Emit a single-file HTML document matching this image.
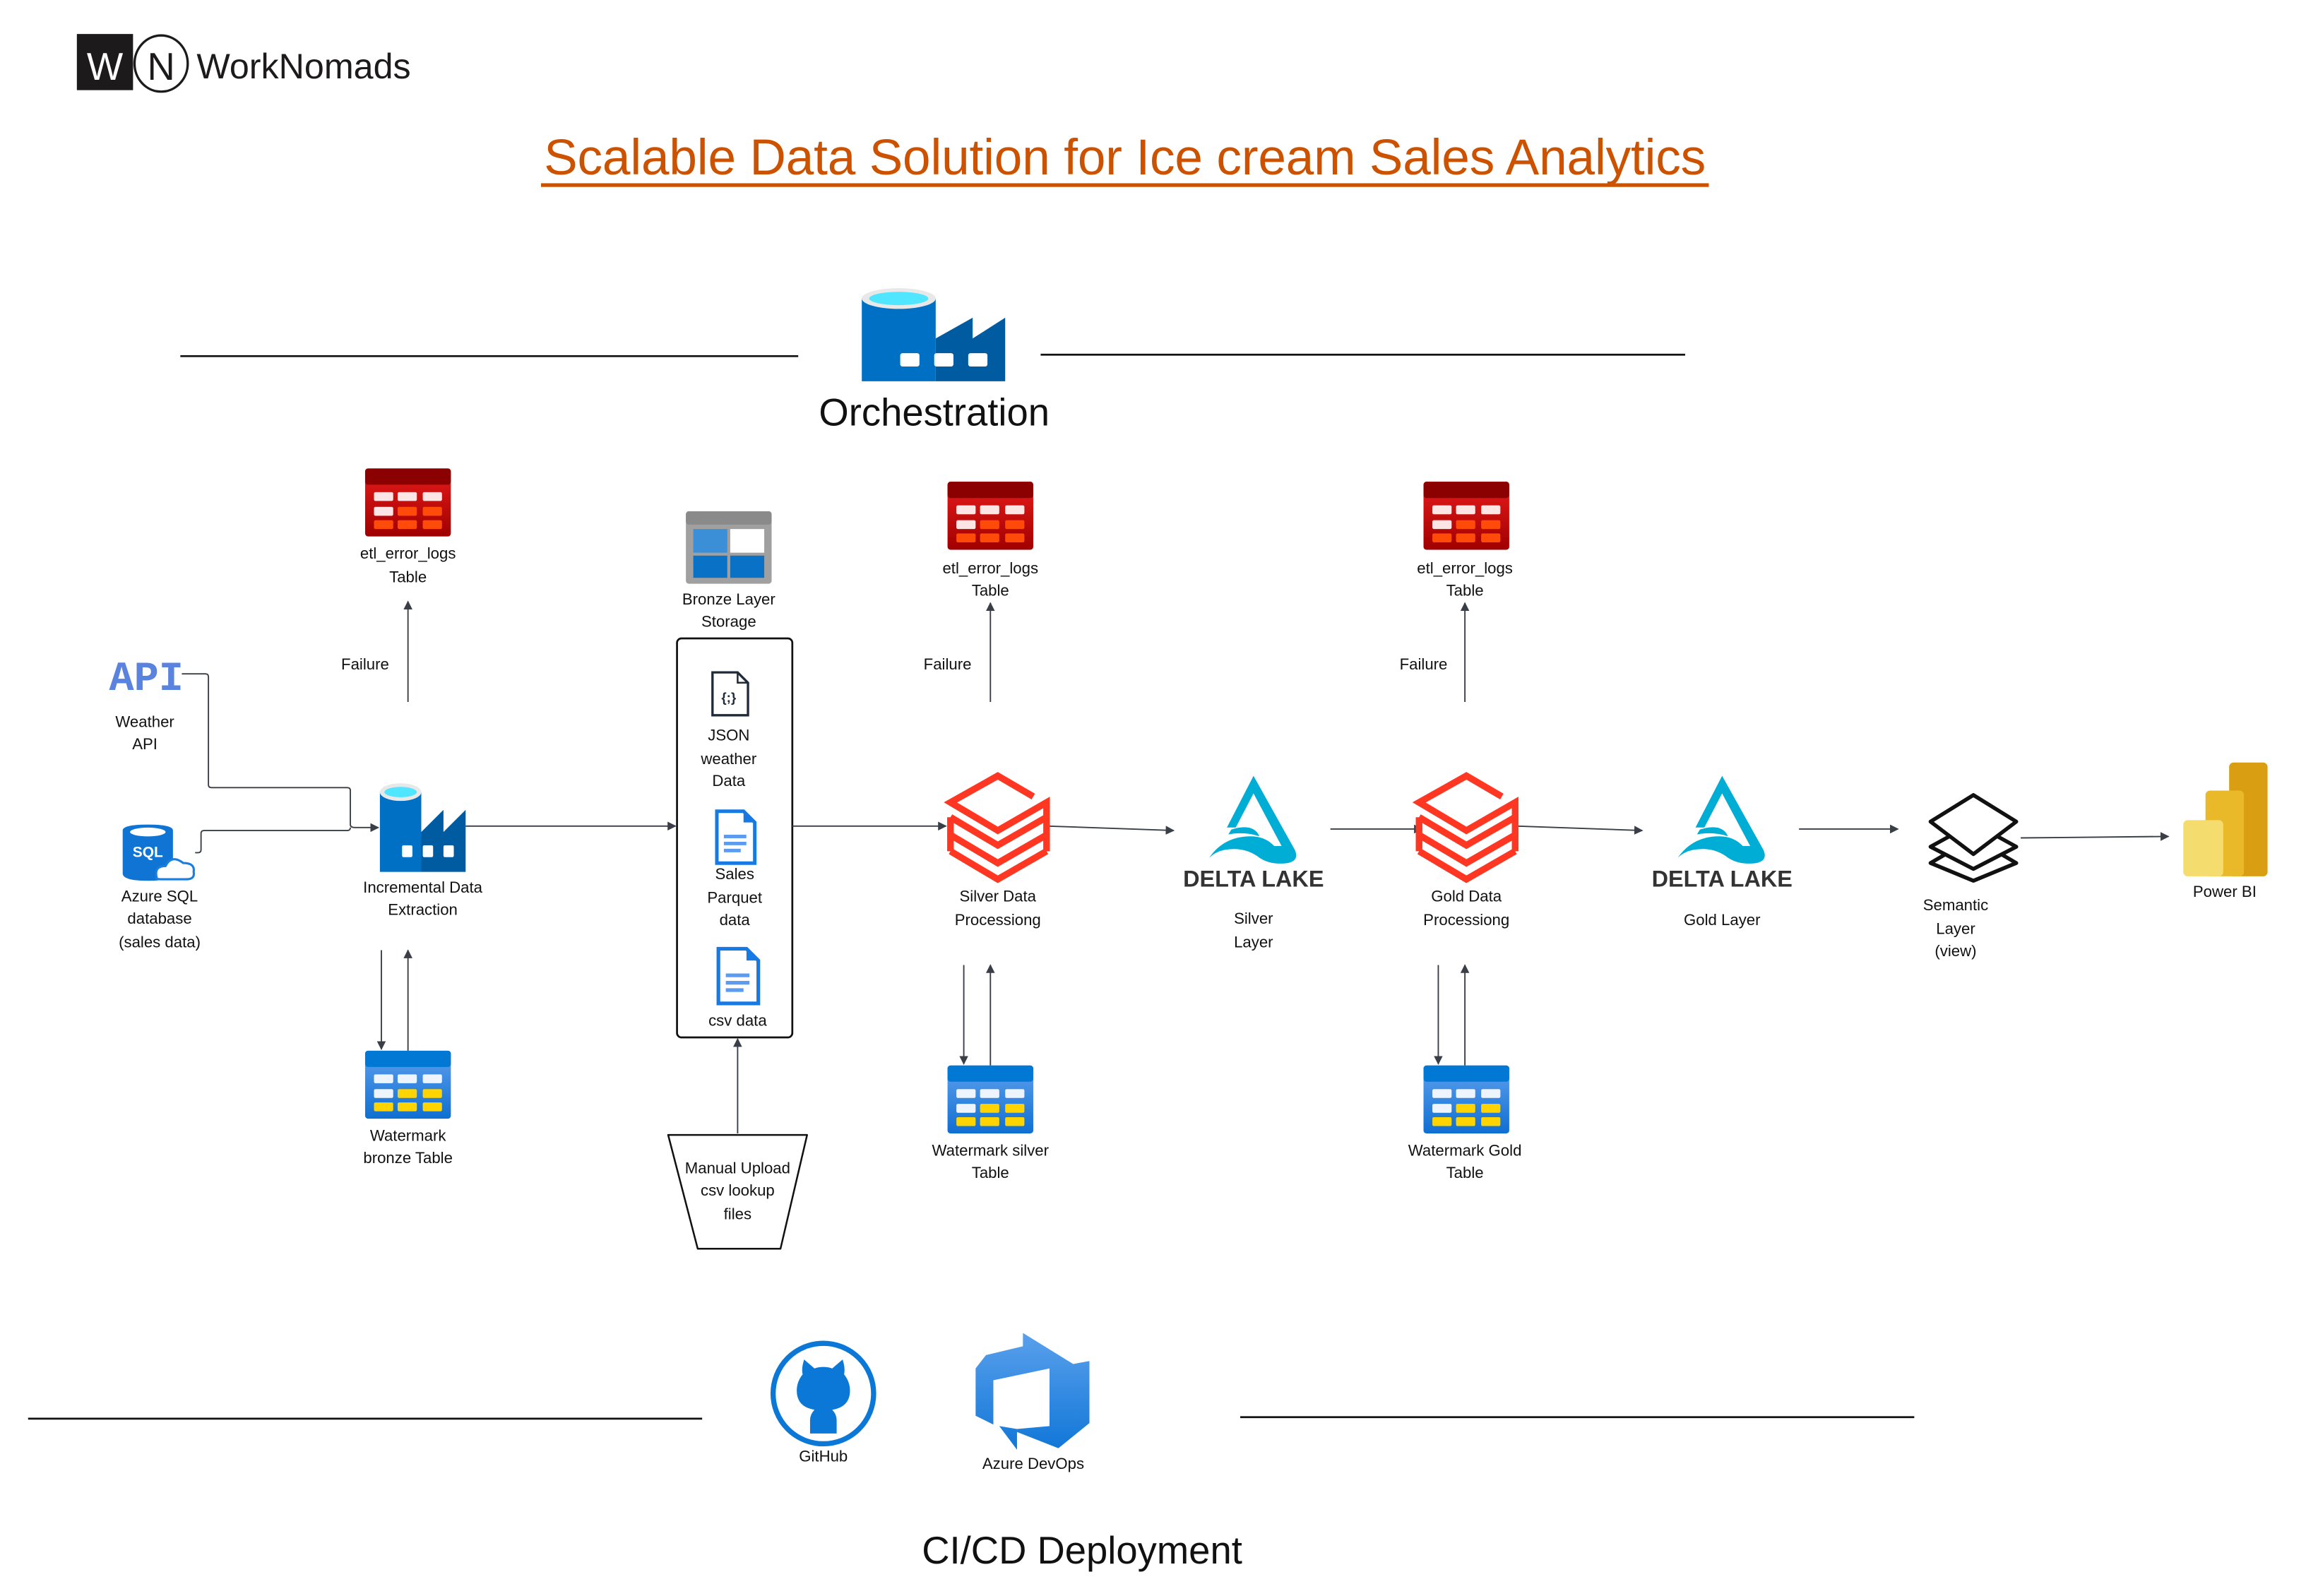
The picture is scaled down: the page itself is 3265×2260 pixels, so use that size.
<!DOCTYPE html>
<html><head><meta charset="utf-8">
<style>
html,body{margin:0;padding:0;background:#fff;}
svg{display:block;}
text{font-family:"Liberation Sans",sans-serif;fill:#111;}
.s{font-size:10.6px;text-anchor:middle;}
</style></head>
<body>
<svg width="3265" height="2260" viewBox="0 0 1560 1080" preserveAspectRatio="none" xmlns="http://www.w3.org/2000/svg">
<defs>
<marker id="ar" viewBox="0 0 10 10" refX="9" refY="5" markerWidth="6" markerHeight="6" orient="auto-start-reverse" markerUnits="userSpaceOnUse">
<path d="M0,0 L10,5 L0,10 z" fill="#3a3f47"/></marker>
<linearGradient id="rg" x1="0" y1="0" x2="0" y2="1"><stop offset="0" stop-color="#e81b1b"/><stop offset="1" stop-color="#a00000"/></linearGradient>
<linearGradient id="bg" x1="0" y1="0" x2="0" y2="1"><stop offset="0" stop-color="#5ea0ef"/><stop offset="1" stop-color="#0f6fd1"/></linearGradient>
<linearGradient id="dg" x1="0" y1="0" x2="0" y2="1"><stop offset="0" stop-color="#5aa0ec"/><stop offset="1" stop-color="#1177d8"/></linearGradient>
<g id="errT">
<rect x="0" y="0" width="58" height="46" rx="2" fill="url(#rg)"/>
<rect x="0" y="0" width="58" height="11" rx="2" fill="#8b0000"/>
<g fill="#fbe5e5"><rect x="6" y="16" width="13" height="6" rx="1"/><rect x="22" y="16" width="13" height="6" rx="1"/><rect x="39" y="16" width="13" height="6" rx="1"/><rect x="6" y="26" width="13" height="6" rx="1"/></g>
<g fill="#ff4b0a"><rect x="22" y="26" width="13" height="6" rx="1"/><rect x="39" y="26" width="13" height="6" rx="1"/><rect x="6" y="35" width="13" height="6" rx="1"/><rect x="22" y="35" width="13" height="6" rx="1"/><rect x="39" y="35" width="13" height="6" rx="1"/></g>
</g>
<g id="wmT">
<rect x="0" y="0" width="58" height="46" rx="2" fill="url(#bg)"/>
<rect x="0" y="0" width="58" height="11" rx="2" fill="#0078d4"/>
<g fill="#eef4fc"><rect x="6" y="16" width="13" height="6" rx="1"/><rect x="22" y="16" width="13" height="6" rx="1"/><rect x="39" y="16" width="13" height="6" rx="1"/><rect x="6" y="26" width="13" height="6" rx="1"/></g>
<g fill="#ffd400"><rect x="22" y="26" width="13" height="6" rx="1"/><rect x="39" y="26" width="13" height="6" rx="1"/><rect x="6" y="35" width="13" height="6" rx="1"/><rect x="22" y="35" width="13" height="6" rx="1"/><rect x="39" y="35" width="13" height="6" rx="1"/></g>
</g>
<g id="adf">
<rect x="0" y="10" width="50" height="56" fill="#0070c4"/>
<path d="M50,37 L75,23 L75,37 L97,23 L97,66 L50,66z" fill="#005ba1"/>
<ellipse cx="25" cy="10" rx="25" ry="7" fill="#e8e8e8"/>
<ellipse cx="25" cy="10" rx="20" ry="4.5" fill="#50e6ff"/>
<g fill="#fff"><rect x="26" y="47" width="13" height="9" rx="1.5"/><rect x="49" y="47" width="13" height="9" rx="1.5"/><rect x="72" y="47" width="13" height="9" rx="1.5"/></g>
</g>
<g id="adf2">
<rect x="0" y="8" width="28" height="54" fill="#0070c4"/>
<path d="M28,35 L43,20 L43,35 L58,20 L58,62 L28,62z" fill="#005ba1"/>
<ellipse cx="14" cy="8" rx="14" ry="6" fill="#e8e8e8"/>
<ellipse cx="14" cy="8" rx="11" ry="3.5" fill="#50e6ff"/>
<g fill="#fff"><rect x="15" y="44" width="7" height="8" rx="1"/><rect x="29" y="44" width="7" height="8" rx="1"/><rect x="43" y="44" width="7" height="8" rx="1"/></g>
</g>
<g id="dbx" fill="none" stroke="#ff3621" stroke-width="4.5" stroke-linejoin="miter">
<path d="M58,15 L34,1 L2,19 L34,38 L67,19 L67,29"/>
<path d="M2,29 L2,41 L34,60 L67,41 L67,52"/>
<path d="M2,29 L34,48 L67,29 L67,41"/>
<path d="M2,52 L34,71 L67,52"/>
<path d="M2,41 L2,52"/>
</g>
<g id="delta">
<path d="M30,0 L58,76 Q62,90 48,90 Q40,90 34,84 Q24,72 10,76 Q4,78 0,84 Q10,62 28,62 Q38,62 44,72 L49,72 L30,18 L18,53 L12,53 z" fill="#00add4"/>
<path d="M15,55 Q30,48 34,62 Q24,57 13,60z" fill="#00add4"/>
</g>
<g id="doc" fill="none">
<path d="M1,1 L20,1 L28,9 L28,38 L1,38 z" stroke="#1779e4" stroke-width="2.5" fill="#fff"/>
<path d="M20,1 L20,9 L28,9 z" fill="#1779e4"/>
<g stroke="#5b9cf0" stroke-width="2.5"><line x1="6" y1="19" x2="22" y2="19"/><line x1="6" y1="24" x2="22" y2="24"/><line x1="6" y1="29" x2="18" y2="29"/></g>
</g>
</defs>

<!-- Logo -->
<rect x="52" y="23" width="38" height="38" fill="#1c1a1a"/>
<text x="71" y="54" font-size="26" text-anchor="middle" style="fill:#fff">W</text>
<ellipse cx="109" cy="43" rx="18" ry="19" fill="none" stroke="#1c1a1a" stroke-width="1.6"/>
<text x="109" y="54" font-size="26" text-anchor="middle" style="fill:#1c1a1a">N</text>
<text x="133" y="53" font-size="24" style="fill:#1c1a1a">WorkNomads</text>

<!-- Title -->
<text x="761" y="118" font-size="34" text-anchor="middle" textLength="786" style="fill:#cc5200">Scalable Data Solution for Ice cream Sales Analytics</text>
<rect x="366" y="124" width="790" height="2.5" fill="#cc5200"/>

<!-- Orchestration -->
<line x1="122" y1="241" x2="540" y2="241" stroke="#111" stroke-width="1.3"/>
<line x1="704" y1="240" x2="1140" y2="240" stroke="#111" stroke-width="1.3"/>
<use href="#adf" x="583" y="192"/>
<text x="632" y="288" font-size="26" text-anchor="middle">Orchestration</text>

<!-- error tables -->
<use href="#errT" x="247" y="317"/>
<text class="s" x="276" y="378">etl_error_logs</text><text class="s" x="276" y="394">Table</text>
<use href="#errT" x="641" y="326"/>
<text class="s" x="670" y="388">etl_error_logs</text><text class="s" x="670" y="403">Table</text>
<use href="#errT" x="963" y="326"/>
<text class="s" x="991" y="388">etl_error_logs</text><text class="s" x="991" y="403">Table</text>

<g stroke="#3a3f47" stroke-width="0.9" fill="none">
<line x1="276" y1="475" x2="276" y2="407" marker-end="url(#ar)"/>
<line x1="670" y1="475" x2="670" y2="408" marker-end="url(#ar)"/>
<line x1="991" y1="475" x2="991" y2="408" marker-end="url(#ar)"/>
</g>
<text class="s" x="247" y="453">Failure</text>
<text class="s" x="641" y="453">Failure</text>
<text class="s" x="963" y="453">Failure</text>

<!-- Bronze storage -->
<rect x="464" y="346" width="58" height="49" rx="2" fill="#a0a0a0"/>
<rect x="464" y="346" width="58" height="9" rx="2" fill="#8a8a8a"/>
<rect x="469" y="358" width="23" height="16" fill="#3a8fd6"/><rect x="494" y="358" width="23" height="16" fill="#fff"/>
<rect x="469" y="376" width="23" height="15" fill="#0a72c6"/><rect x="494" y="376" width="23" height="15" fill="#0a72c6"/>
<text class="s" x="493" y="409">Bronze Layer</text><text class="s" x="493" y="424">Storage</text>
<rect x="458" y="432" width="78" height="270" rx="3" fill="none" stroke="#111" stroke-width="1.3"/>
<path d="M482,455 L499,455 L506,462 L506,484 L482,484 z" fill="#fff" stroke="#1f2a3a" stroke-width="1.6"/>
<path d="M499,455 L499,462 L506,462" fill="none" stroke="#1f2a3a" stroke-width="1.2"/>
<text x="493" y="475" font-size="9" text-anchor="middle" font-weight="bold" style="fill:#1f2a3a">{;}</text>
<text class="s" x="493" y="501">JSON</text><text class="s" x="493" y="517">weather</text><text class="s" x="493" y="532">Data</text>
<use href="#doc" x="484" y="548" transform="translate(484,548) scale(0.95) translate(-484,-548)"/>
<text class="s" x="497" y="595">Sales</text><text class="s" x="497" y="611">Parquet</text><text class="s" x="497" y="626">data</text>
<use href="#doc" x="485" y="641"/>
<text class="s" x="499" y="694">csv data</text>

<!-- Manual upload -->
<path d="M452,768 L546,768 L528,845 L472,845 z" fill="#fff" stroke="#111" stroke-width="1.2" stroke-linejoin="round"/>
<text class="s" x="499" y="794">Manual Upload</text><text class="s" x="499" y="809">csv lookup</text><text class="s" x="499" y="825">files</text>
<line x1="499" y1="767" x2="499" y2="703" stroke="#3a3f47" stroke-width="0.9" marker-end="url(#ar)"/>

<!-- API & SQL -->
<text x="99" y="467" font-size="28" font-weight="bold" text-anchor="middle" style="fill:#5a83e0;font-family:'Liberation Mono',monospace">API</text>
<text class="s" x="98" y="492">Weather</text><text class="s" x="98" y="507">API</text>
<path d="M83,562 Q83,558 100,558 Q117,558 117,562 L117,591 Q117,596 100,596 Q83,596 83,591 z" fill="#0f74d3"/>
<ellipse cx="100" cy="563" rx="12" ry="3" fill="#fff"/>
<text x="100" y="580" font-size="10" font-weight="bold" text-anchor="middle" style="fill:#fff">SQL</text>
<path d="M106,594 Q104,586 112,586 Q116,578 124,584 Q132,584 131,590 Q132,595 126,595 L110,595 Q105,595 106,594z" fill="#fff" stroke="#1a7ee0" stroke-width="1.5"/>
<text class="s" x="108" y="610">Azure SQL</text><text class="s" x="108" y="625">database</text><text class="s" x="108" y="641">(sales data)</text>
<g stroke="#3a3f47" stroke-width="0.9" fill="none">
<path d="M123,456 L139,456 Q141,456 141,458 L141,531 Q141,533 143,533 L235,533 Q237,533 237,535 L237,558 Q237,560 240,560 L256,560" marker-end="url(#ar)"/>
<path d="M132,577 L134,577 Q136,577 136,575 L136,564 Q136,562 138,562 L235,562 Q237,562 237,560"/>
</g>

<!-- ADF incremental -->
<use href="#adf2" x="257" y="528"/>
<text class="s" x="286" y="604">Incremental Data</text><text class="s" x="286" y="619">Extraction</text>
<g stroke="#3a3f47" stroke-width="0.9" fill="none">
<line x1="315" y1="559" x2="457" y2="559" marker-end="url(#ar)"/>
<line x1="258" y1="643" x2="258" y2="710" marker-end="url(#ar)"/>
<line x1="276" y1="711" x2="276" y2="643" marker-end="url(#ar)"/>
<line x1="536" y1="559" x2="640" y2="559" marker-end="url(#ar)"/>
<line x1="709" y1="559" x2="794" y2="562" marker-end="url(#ar)"/>
<line x1="900" y1="561" x2="962" y2="561" marker-end="url(#ar)"/>
<line x1="1026" y1="559" x2="1111" y2="562" marker-end="url(#ar)"/>
<line x1="1217" y1="561" x2="1284" y2="561" marker-end="url(#ar)"/>
<line x1="1367" y1="567" x2="1467" y2="566" marker-end="url(#ar)"/>
<line x1="652" y1="653" x2="652" y2="720" marker-end="url(#ar)"/>
<line x1="670" y1="721" x2="670" y2="653" marker-end="url(#ar)"/>
<line x1="973" y1="653" x2="973" y2="720" marker-end="url(#ar)"/>
<line x1="991" y1="721" x2="991" y2="653" marker-end="url(#ar)"/>
</g>
<use href="#wmT" x="247" y="711"/>
<text class="s" x="276" y="772">Watermark</text><text class="s" x="276" y="787">bronze Table</text>

<!-- Silver -->
<use href="#dbx" x="641" y="524"/>
<text class="s" x="675" y="610">Silver Data</text><text class="s" x="675" y="626">Processiong</text>
<use href="#delta" x="0" y="0" transform="translate(818,525) scale(1.0,0.66)"/>
<text x="848" y="600" font-size="15.5" font-weight="bold" text-anchor="middle" style="fill:#333">DELTA LAKE</text>
<text class="s" x="848" y="625">Silver</text><text class="s" x="848" y="641">Layer</text>
<use href="#wmT" x="641" y="721"/>
<text class="s" x="670" y="782">Watermark silver</text><text class="s" x="670" y="797">Table</text>

<!-- Gold -->
<use href="#dbx" x="958" y="524"/>
<text class="s" x="992" y="610">Gold Data</text><text class="s" x="992" y="626">Processiong</text>
<use href="#delta" x="0" y="0" transform="translate(1135,525) scale(1.0,0.66)"/>
<text x="1165" y="600" font-size="15.5" font-weight="bold" text-anchor="middle" style="fill:#333">DELTA LAKE</text>
<text class="s" x="1165" y="626">Gold Layer</text>
<use href="#wmT" x="963" y="721"/>
<text class="s" x="991" y="782">Watermark Gold</text><text class="s" x="991" y="797">Table</text>

<!-- Semantic -->
<g fill="#fff" stroke="#111" stroke-width="2.6" stroke-linejoin="round">
<path d="M1335,567 L1364,584 L1335,596 L1306,584 z"/>
<path d="M1335,557 L1364,573 L1335,588 L1306,573 z"/>
<path d="M1335,538 L1364,556 L1335,578 L1306,556 z"/>
</g>
<text class="s" x="1323" y="616">Semantic</text><text class="s" x="1323" y="632">Layer</text><text class="s" x="1323" y="647">(view)</text>

<!-- Power BI -->
<rect x="1508" y="516" width="26" height="77" rx="3" fill="#d99e12"/>
<rect x="1492" y="535" width="26" height="58" rx="3" fill="#eab92a"/>
<rect x="1477" y="555" width="27" height="38" rx="3" fill="#f5dc6e"/>
<text class="s" x="1505" y="607">Power BI</text>

<!-- CI/CD -->
<line x1="19" y1="960" x2="475" y2="960" stroke="#111" stroke-width="1.3"/>
<line x1="839" y1="959" x2="1295" y2="959" stroke="#111" stroke-width="1.3"/>
<circle cx="557" cy="943" r="34" fill="#fff" stroke="#0b78d8" stroke-width="3.5"/>
<path d="M544,920 L551,926 Q557,924 563,926 L570,920 Q572,926 571,930 Q575,935 575,941 Q575,952 563,954 Q566,957 566,961 L566,970 L548,970 L548,961 Q548,957 551,954 Q539,952 539,941 Q539,935 543,930 Q542,926 544,920 z" fill="#0b78d8"/>
<text class="s" x="557" y="989">GitHub</text>
<path d="M692,902 L726,923 L737,921 L737,963 L716,980 L688,969 L688,981 L676,965 L688,967 L710,965 L710,926 L672,934 L672,964 L660,958 L660,926 L667,917 L692,911 z" fill="url(#dg)"/>
<text class="s" x="699" y="994">Azure DevOps</text>
<text x="732" y="1058" font-size="26" text-anchor="middle">CI/CD Deployment</text>
</svg>
</body></html>
